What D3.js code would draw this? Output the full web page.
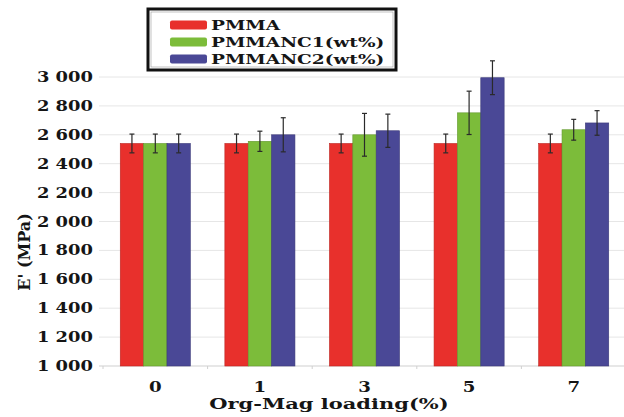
<!DOCTYPE html>
<html>
<head>
<meta charset="utf-8">
<script src="https://cdn.jsdelivr.net/npm/d3@7"></script>
<style>
  body { margin: 0; background: #fff; }
  svg { display: block; }
  text { font-family: "DejaVu Serif", "Liberation Serif", serif; font-weight: bold; fill: #151515; }
</style>
</head>
<body>
<div id="chart"></div>
<script>
// Data
const categories = ['0', '1', '3', '5', '7'];
const seriesNames = ['PMMA', 'PMMANC1(wt%)', 'PMMANC2(wt%)'];
const pmma = [2540, 2540, 2540, 2540, 2540];
const pmmaErr = [65, 65, 65, 65, 65];
const nc1 = [2540, 2555, 2600, 2752, 2635];
const nc1Err = [65, 70, 148, 150, 72];
const nc2 = [2540, 2600, 2628, 2995, 2682];
const nc2Err = [65, 118, 115, 117, 85];
const yTicks = [1000, 1200, 1400, 1600, 1800, 2000, 2200, 2400, 2600, 2800, 3000];

const colors = ['#e8302c', '#7cbc3a', '#4a4896'];
const values = [pmma, nc1, nc2];
const errors = [pmmaErr, nc1Err, nc2Err];

const width = 624, height = 417;
const margin = {top: 77, right: -2, bottom: 51, left: 103};

const svg = d3.select('#chart').append('svg')
    .attr('width', width)
    .attr('height', height);

const x = d3.scalePoint()
    .domain(categories)
    .range([margin.left, width - margin.right])
    .padding(0.5);

const groupWidth = x.step() * 0.67;
const xSub = d3.scaleBand()
    .domain(d3.range(seriesNames.length))
    .range([-groupWidth / 2, groupWidth / 2]);

const y = d3.scaleLinear()
    .domain([1000, 3000])
    .range([height - margin.bottom, margin.top]);

// horizontal text stretch (the reference font is very wide)
function stretched(sel, sx) {
    return sel.attr('transform', function() {
        const tx = +this.getAttribute('data-x'), ty = +this.getAttribute('data-y');
        return `translate(${tx},${ty}) scale(${sx},1)`;
    });
}

// Gridlines
svg.append('g')
    .selectAll('line')
    .data(yTicks)
    .enter()
    .append('line')
    .attr('x1', margin.left - 4)
    .attr('x2', width)
    .attr('y1', d => y(d))
    .attr('y2', d => y(d))
    .attr('stroke', d => d === 1000 ? '#cfcfcf' : '#e6e6e6')
    .attr('stroke-width', 1);

// faint x ticks between groups
svg.append('g')
    .selectAll('line')
    .data(categories)
    .enter()
    .append('line')
    .attr('x1', d => x(d) - x.step() / 2)
    .attr('x2', d => x(d) - x.step() / 2)
    .attr('y1', y(1000))
    .attr('y2', y(1000) + 3)
    .attr('stroke', '#d0d0d0');

// Y tick labels
svg.append('g')
    .selectAll('text')
    .data(yTicks)
    .enter()
    .append('text')
    .attr('data-x', 93)
    .attr('data-y', d => y(d) + 5)
    .attr('text-anchor', 'end')
    .style('font-size', '14px')
    .text(d => d3.format(',')(d).replace(',', ' '))
    .call(stretched, 1.28);

// Bars
const groups = svg.append('g')
    .selectAll('g')
    .data(categories)
    .enter()
    .append('g')
    .attr('transform', d => `translate(${x(d)},0)`);

seriesNames.forEach((name, s) => {
    groups.append('rect')
        .attr('x', (d, i) => xSub(s))
        .attr('y', (d, i) => y(values[s][i]))
        .attr('width', xSub.bandwidth())
        .attr('height', (d, i) => y(1000) - y(values[s][i]))
        .attr('fill', colors[s])
        .attr('stroke', d3.color(colors[s]).darker(0.6))
        .attr('stroke-width', 0.6);
});

// Error bars
seriesNames.forEach((name, s) => {
    const cx = xSub(s) + xSub.bandwidth() / 2;
    groups.append('line')
        .attr('x1', cx).attr('x2', cx)
        .attr('y1', (d, i) => y(values[s][i] + errors[s][i]))
        .attr('y2', (d, i) => y(values[s][i] - errors[s][i]))
        .attr('stroke', '#2a2a2a')
        .attr('stroke-width', 1.2);
    [1, -1].forEach(sign => {
        groups.append('line')
            .attr('x1', cx - 2.5).attr('x2', cx + 2.5)
            .attr('y1', (d, i) => y(values[s][i] + sign * errors[s][i]))
            .attr('y2', (d, i) => y(values[s][i] + sign * errors[s][i]))
            .attr('stroke', '#2a2a2a')
            .attr('stroke-width', 1.2);
    });
});

// X tick labels
svg.append('g')
    .selectAll('text')
    .data(categories)
    .enter()
    .append('text')
    .attr('data-x', d => x(d))
    .attr('data-y', 392)
    .attr('text-anchor', 'middle')
    .style('font-size', '14px')
    .text(d => d)
    .call(stretched, 1.3);

// Axis titles
svg.append('text')
    .attr('data-x', 329)
    .attr('data-y', 409)
    .attr('text-anchor', 'middle')
    .style('font-size', '15px')
    .text('Org-Mag loading(%)')
    .call(stretched, 1.4);

svg.append('text')
    .attr('transform', 'translate(30,252) rotate(-90)')
    .attr('text-anchor', 'middle')
    .style('font-size', '16px')
    .text("E' (MPa)");

// Legend
const legend = svg.append('g').attr('class', 'legend');
legend.append('rect')
    .attr('x', 148).attr('y', 9)
    .attr('width', 248).attr('height', 61)
    .attr('fill', '#fff')
    .attr('stroke', '#111')
    .attr('stroke-width', 3);
legend.append('rect')
    .attr('x', 151).attr('y', 12)
    .attr('width', 242).attr('height', 55)
    .attr('fill', 'none')
    .attr('stroke', '#999')
    .attr('stroke-width', 0.6);

seriesNames.forEach((name, s) => {
    const cy = 25 + s * 17;
    legend.append('rect')
        .attr('x', 170).attr('y', cy - 4.5)
        .attr('width', 37).attr('height', 9)
        .attr('rx', 2)
        .attr('fill', colors[s]);
    legend.append('text')
        .attr('data-x', 211)
        .attr('data-y', cy + 5)
        .style('font-size', '13.5px')
        .text(name)
        .call(stretched, 1.37);
});
</script>
</body>
</html>
